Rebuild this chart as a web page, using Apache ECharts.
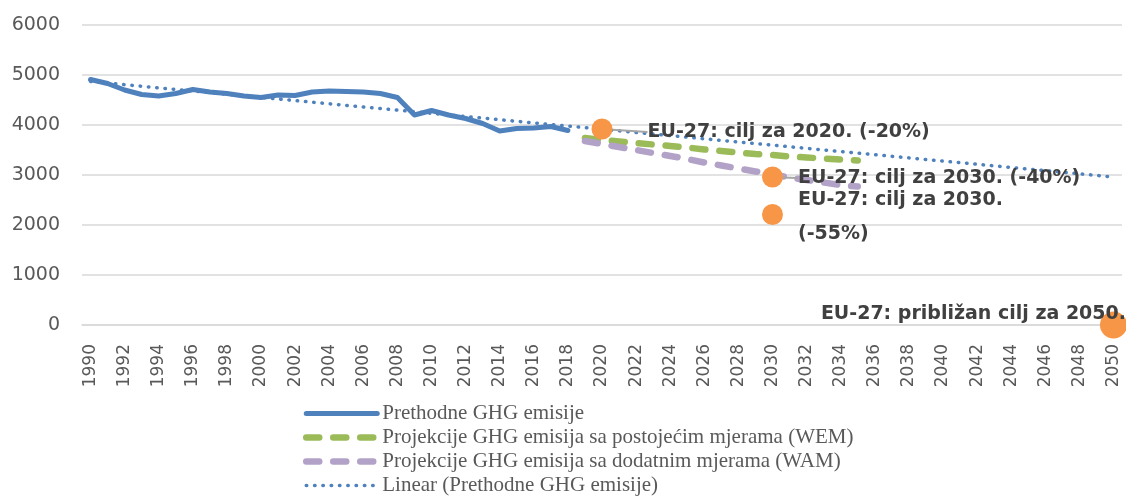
<!DOCTYPE html>
<html>
<head>
<meta charset="utf-8">
<script src="https://cdn.jsdelivr.net/npm/echarts@6/dist/echarts.min.js"></script>
<style>
html,body{margin:0;padding:0;background:#fff;}
#chart{width:1126px;height:496px;}
</style>
</head>
<body>
<div id="chart"></div>
<script>
// ---- data ----
var years = [];
for (var y = 1990; y <= 2050; y++) years.push(String(y));

var historicalYears = ['1990','1991','1992','1993','1994','1995','1996','1997','1998','1999','2000','2001','2002','2003','2004','2005','2006','2007','2008','2009','2010','2011','2012','2013','2014','2015','2016','2017','2018'];
var historicalValues = [4910,4830,4700,4610,4580,4630,4710,4660,4630,4580,4550,4600,4590,4660,4680,4670,4660,4630,4550,4200,4290,4200,4130,4030,3880,3930,3940,3970,3890];

var projectionYears = ['2019','2020','2021','2022','2023','2024','2025','2026','2027','2028','2029','2030','2031','2032','2033','2034','2035'];
var wemValues = [3740,3700,3670,3640,3610,3580,3550,3510,3480,3450,3420,3400,3370,3350,3330,3310,3290];
var wamValues = [3680,3620,3560,3500,3440,3380,3320,3250,3190,3130,3070,3010,2950,2900,2850,2800,2770];

var trendYears = ['1990','2050'];
var trendValues = [4870,2960];

var targetYears = ['2020','2030','2030','2050'];
var targetValues = [3920,2960,2210,0];
var targetLabels = ['EU-27: cilj za 2020. (-20%)','EU-27: cilj za 2030. (-40%)','EU-27: cilj za 2030.\n(-55%)','EU-27: približan cilj za 2050.'];

var seriesNames = ['Prethodne GHG emisije','Projekcije GHG emisija sa postojećim mjerama (WEM)','Projekcije GHG emisija sa dodatnim mjerama (WAM)','Linear (Prethodne GHG emisije)'];

// ---- styles ----
var seriesWidths = [5, 6.5, 6.5, 3.5];
var targetSizes = [21,21,21,27];
var targetLabelPos = ['right','right','right','left'];
var targetOffsets = [[30,3],[10,1],[10,3],[31,-11]];
var targetLeader = [true,true,false,false];

function toSeries(cats, vals) {
  var m = {};
  cats.forEach(function(c, i){ m[c] = vals[i]; });
  return years.map(function(c){ return m[c] === undefined ? null : m[c]; });
}

var chart = echarts.init(document.getElementById('chart'));
var axisFont = 'DejaVu Sans';
var option = {
  animation: false,
  grid: {left: 82, right: 4, top: 25, bottom: 171, containLabel: false},
  legend: {
    data: seriesNames.map(function(n, i){ return {name: n, lineStyle: {width: seriesWidths[i]}}; }),
    orient: 'vertical',
    left: 303,
    top: 403,
    height: 140,
    padding: 0,
    itemWidth: 71,
    itemHeight: 14,
    itemGap: 3,
    itemStyle: {opacity: 0},
    textStyle: {fontFamily: 'Liberation Serif', fontSize: 21, color: '#595959', lineHeight: 19}
  },
  xAxis: {
    type: 'category',
    data: years,
    boundaryGap: true,
    axisLine: {show: true, lineStyle: {color: '#D9D9D9', width: 1.5}},
    axisTick: {show: false},
    axisLabel: {interval: 1, rotate: 90, fontFamily: axisFont, fontSize: 17, color: '#595959', margin: 19}
  },
  yAxis: {
    type: 'value',
    min: 0, max: 6000, interval: 1000,
    axisLine: {show: false},
    axisTick: {show: false},
    axisLabel: {fontFamily: axisFont, fontSize: 19, color: '#595959', margin: 22, formatter: function(v){ return String(v); }},
    splitLine: {lineStyle: {color: '#D9D9D9', width: 1.5}}
  },
  series: [
    {
      name: seriesNames[0], type: 'line', data: toSeries(historicalYears, historicalValues),
      symbol: 'none', color: '#4F81BD',
      lineStyle: {color: '#4F81BD', width: seriesWidths[0], cap: 'round', join: 'round'}
    },
    {
      name: seriesNames[1], type: 'line', data: toSeries(projectionYears, wemValues),
      symbol: 'none', color: '#9BBB59',
      lineStyle: {color: '#9BBB59', width: seriesWidths[1], type: [13, 14], cap: 'round'}
    },
    {
      name: seriesNames[2], type: 'line', data: toSeries(projectionYears, wamValues),
      symbol: 'none', color: '#B3A2C7',
      lineStyle: {color: '#B3A2C7', width: seriesWidths[2], type: [13, 14], cap: 'round'}
    },
    {
      name: seriesNames[3], type: 'line', data: toSeries(trendYears, trendValues),
      connectNulls: true, symbol: 'none', color: '#4F81BD',
      lineStyle: {color: '#4F81BD', width: seriesWidths[3], type: [0.5, 7.8], cap: 'round'}
    },
    {
      name: 'Ciljevi', type: 'scatter', z: 5,
      data: targetYears.map(function(yr, i){
        return {
          value: [yr, targetValues[i]],
          symbolSize: targetSizes[i],
          label: {show: true, position: targetLabelPos[i], distance: 5, formatter: targetLabels[i]},
          labelLine: {show: targetLeader[i]}
        };
      }),
      itemStyle: {color: '#F79646', opacity: 1},
      label: {
        show: true, fontFamily: axisFont, fontWeight: 'bold', fontSize: 19, color: '#404040', lineHeight: 34
      },
      labelLine: {show: false, lineStyle: {color: '#A6A6A6', width: 2}},
      labelLayout: function(p){
        var o = targetOffsets[p.dataIndex];
        return {dx: o[0], dy: o[1]};
      }
    }
  ]
};
chart.setOption(option);
</script>
</body>
</html>
